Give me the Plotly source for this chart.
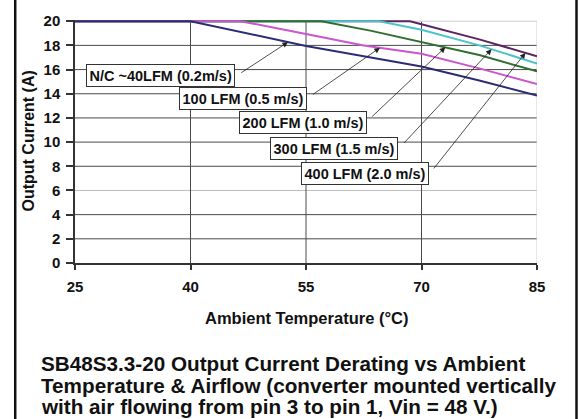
import numpy as np
import plotly.graph_objects as go

# Derating curves: ambient temperature (°C) vs. maximum output current (A)
temp_nc = [25, 40, 55, 62.5, 70, 77.5, 85]
curr_nc = [20, 20, 17.95, 17.1, 16.25, 15.1, 13.85]

temp_100 = [25, 46.5, 55, 62.5, 70, 77.5, 85]
curr_100 = [20, 20, 18.95, 18.0, 17.3, 16.1, 14.8]

temp_200 = [25, 57, 63.5, 70, 77.5, 85]
curr_200 = [20, 20, 19.2, 18.3, 17.2, 15.85]

temp_300 = [25, 64.5, 70, 77.5, 85]
curr_300 = [20, 20, 19.3, 18.0, 16.5]

temp_400 = [25, 68.5, 70, 77.5, 85]
curr_400 = [20, 20, 19.75, 18.5, 17.1]

x_ticks = [25, 40, 55, 70, 85]
y_ticks = [0, 2, 4, 6, 8, 10, 12, 14, 16, 18, 20]

# Callout text, box centre (°C, A), arrow tail (°C, A), arrow tip temperature
labels = ["N/C ~40LFM (0.2m/s)", "100 LFM (0.5 m/s)", "200 LFM (1.0 m/s)",
          "300 LFM (1.5 m/s)", "400 LFM (2.0 m/s)"]
box_t = [36.1, 46.8, 54.55, 58.7, 62.7]
box_i = [15.49, 13.57, 11.64, 9.5, 7.38]
tail_t = [46.4, 55.7, 63.4, 67.56, 71.45]
tail_i = [15.66, 13.85, 12.0, 9.81, 7.7]
tip_t = [52.66, 64.6, 73.1, 79.1, 83.5]

FONT = "Liberation Sans, Arial, sans-serif"

series = [
    # drawn bottom to top
    (temp_400, curr_400, "#5c2460"),
    (temp_300, curr_300, "#4cc3c8"),
    (temp_200, curr_200, "#2f6e30"),
    (temp_100, curr_100, "#cc55cc"),
    (temp_nc, curr_nc, "#2c2c76"),
]
curves = [(temp_nc, curr_nc), (temp_100, curr_100), (temp_200, curr_200),
          (temp_300, curr_300), (temp_400, curr_400)]

fig = go.Figure()
for t, c, col in series:
    fig.add_trace(go.Scatter(x=t, y=c, mode="lines",
                             line=dict(color=col, width=2),
                             showlegend=False, hoverinfo="skip"))

shapes = []
# horizontal grid
for yv in y_ticks[1:-1]:
    col = "#bdbdbd" if yv == 6 else "#4a4a4a"
    shapes.append(dict(type="line", xref="x", yref="y", x0=25, x1=85,
                       y0=yv, y1=yv, line=dict(color=col, width=1), layer="below"))
# vertical grid
for xv in x_ticks[1:-1]:
    shapes.append(dict(type="line", xref="x", yref="y", x0=xv, x1=xv,
                       y0=0, y1=20, line=dict(color="#4a4a4a", width=1), layer="below"))
# light plot-area border (top and right)
shapes.append(dict(type="line", xref="x", yref="y", x0=25, x1=85, y0=20, y1=20,
                   line=dict(color="#cfcfcf", width=1), layer="below"))
shapes.append(dict(type="line", xref="x", yref="y", x0=85, x1=85, y0=0, y1=20,
                   line=dict(color="#cfcfcf", width=1), layer="below"))
# outer frame, left and right
for xp in [-0.1294, 1.0855]:
    shapes.append(dict(type="line", xref="paper", yref="paper", x0=xp, x1=xp,
                       y0=-0.7, y1=1.2, line=dict(color="#111111", width=2.5),
                       layer="above"))

annotations = []
for lab, bt, bi, tt, ti, pt, (ct, cc) in zip(labels, box_t, box_i, tail_t, tail_i,
                                             tip_t, curves):
    tip_i = float(np.interp(pt, ct, cc))
    annotations.append(dict(x=pt, y=tip_i, xref="x", yref="y", ax=tt, ay=ti,
                            axref="x", ayref="y", text="", showarrow=True,
                            arrowhead=2, arrowsize=1.4, arrowwidth=0.8,
                            arrowcolor="#222222", standoff=0, startstandoff=0))
for lab, bt, bi in zip(labels, box_t, box_i):
    annotations.append(dict(x=bt, y=bi, xref="x", yref="y", text=lab,
                            showarrow=False, bgcolor="white",
                            bordercolor="#333333", borderwidth=1, borderpad=2.5,
                            font=dict(family=FONT, size=14.5, color="#111111",
                                      weight="bold")))

# axis titles
annotations.append(dict(x=-0.1017, y=0.5, xref="paper", yref="paper",
                        text="Output Current (A)", textangle=-90, showarrow=False,
                        xanchor="center", yanchor="middle",
                        font=dict(family=FONT, size=16, color="#111111", weight="bold")))
annotations.append(dict(x=0.5, y=-0.2254, xref="paper", yref="paper",
                        text="Ambient Temperature (°C)", showarrow=False,
                        xanchor="center", yanchor="middle",
                        font=dict(family=FONT, size=16.5, color="#111111", weight="bold")))

# caption
caption = ["SB48S3.3-20 Output Current Derating vs Ambient",
           "Temperature & Airflow (converter mounted vertically",
           "with air flowing from pin 3 to pin 1, Vin = 48 V.)"]
for line, yp in zip(caption, [-0.414, -0.503, -0.592]):
    annotations.append(dict(x=-0.0785, y=yp, xref="paper", yref="paper",
                            text=line, showarrow=False, xanchor="left",
                            yanchor="middle",
                            font=dict(family=FONT, size=20.7, color="#111111",
                                      weight="bold")))

fig.update_layout(
    width=582, height=419,
    margin=dict(l=75, r=45, t=18, b=156, pad=0),
    paper_bgcolor="white", plot_bgcolor="white",
    shapes=shapes, annotations=annotations,
    xaxis=dict(range=[25, 85], tickvals=x_ticks, showgrid=False, zeroline=False,
               showline=True, linecolor="#333333", linewidth=1.5,
               ticks="outside", ticklen=5, tickcolor="#333333", tickwidth=1.5,
               ticklabelstandoff=4,
               tickfont=dict(family=FONT, size=15, color="#111111", weight="bold")),
    yaxis=dict(range=[0, 20.1], tickvals=y_ticks, showgrid=False, zeroline=False,
               showline=True, linecolor="#333333", linewidth=1.5,
               ticks="outside", ticklen=7, tickcolor="#333333", tickwidth=1.5,
               ticklabelstandoff=3,
               tickfont=dict(family=FONT, size=15, color="#111111", weight="bold")),
)

fig.write_html("out.html")
